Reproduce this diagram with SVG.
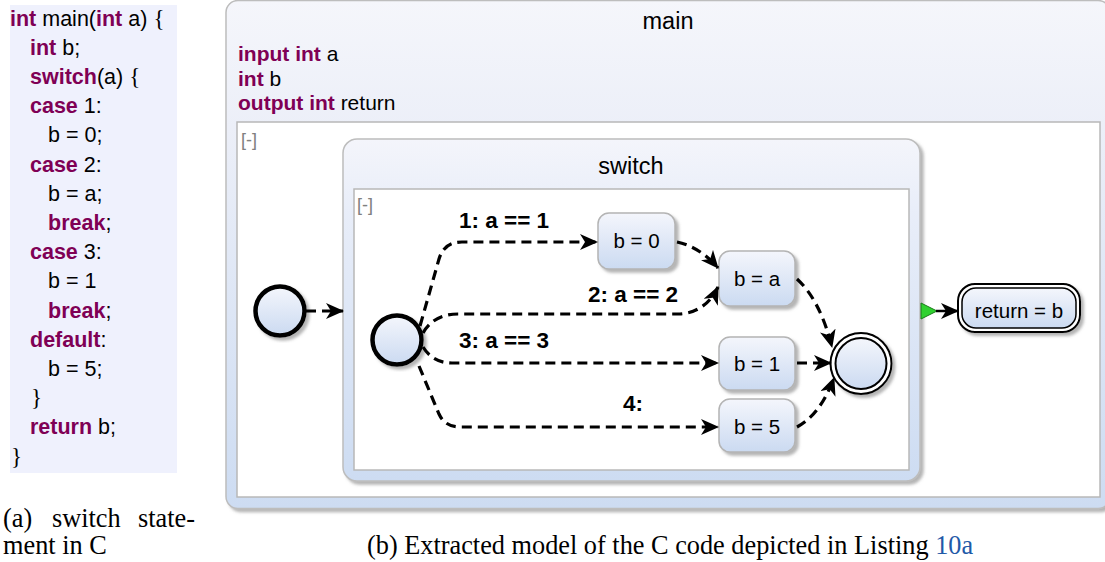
<svg xmlns="http://www.w3.org/2000/svg" width="1105" height="562" viewBox="0 0 1105 562">
<defs>
<linearGradient id="gNode" x1="0" y1="0" x2="0" y2="1"><stop offset="0" stop-color="#f4f6fc"/><stop offset="1" stop-color="#cbdaf1"/></linearGradient>
<linearGradient id="gBox" x1="0" y1="0" x2="0" y2="1"><stop offset="0" stop-color="#f5f6fb"/><stop offset="0.25" stop-color="#eceff8"/><stop offset="1" stop-color="#cddcf2"/></linearGradient>
<linearGradient id="gSw" x1="0" y1="0" x2="0" y2="1"><stop offset="0" stop-color="#f4f5fb"/><stop offset="0.2" stop-color="#e9eef9"/><stop offset="1" stop-color="#cddcf2"/></linearGradient>
<filter id="sh" x="-10%" y="-10%" width="125%" height="125%"><feDropShadow dx="3" dy="3" stdDeviation="1.5" flood-color="#777" flood-opacity="0.55"/></filter>
<marker id="ah" markerUnits="userSpaceOnUse" markerWidth="18" markerHeight="16" viewBox="0 0 18 16" refX="17" refY="8" orient="auto"><path d="M0,0 L18,8 L0,16 L5,8 z" fill="#000"/></marker>
<style>
.code{font-family:"Liberation Sans",Arial,sans-serif;font-size:21.5px;fill:#000}
.kw{font-weight:bold;fill:#7f0055}
.br{font-family:"Liberation Serif","Times New Roman",serif;font-size:23px}
.cap{font-family:"Liberation Serif","Times New Roman",serif;font-size:26.3px;fill:#000}
.t{font-family:"Liberation Sans",Arial,sans-serif;fill:#000}
.lab{font-family:"Liberation Sans",Arial,sans-serif;font-size:22.5px;font-weight:bold;fill:#000}
.col{font-family:"Liberation Sans",Arial,sans-serif;font-size:18px;fill:#808080}
.node{fill:url(#gNode);stroke:#b4b4b4;stroke-width:1.5}
.ed{fill:none;stroke:#000;stroke-width:3.2;stroke-dasharray:10,6;marker-end:url(#ah)}
</style>
</defs>
<rect width="1105" height="562" fill="#fff"/>
<g id="code">
<rect x="10" y="5" width="167" height="468" fill="#eff1fd"/>
<text class="code" x="10" y="26"><tspan class="kw">int</tspan> main(<tspan class="kw">int</tspan> a) <tspan class="br">{</tspan></text>
<text class="code" x="30" y="55"><tspan class="kw">int</tspan> b;</text>
<text class="code" x="30" y="84"><tspan class="kw">switch</tspan>(a) <tspan class="br">{</tspan></text>
<text class="code" x="30" y="113"><tspan class="kw">case</tspan> 1:</text>
<text class="code" x="48" y="142">b = 0;</text>
<text class="code" x="30" y="172"><tspan class="kw">case</tspan> 2:</text>
<text class="code" x="48" y="201">b = a;</text>
<text class="code" x="48" y="230"><tspan class="kw">break</tspan>;</text>
<text class="code" x="30" y="259"><tspan class="kw">case</tspan> 3:</text>
<text class="code" x="48" y="288">b = 1</text>
<text class="code" x="48" y="318"><tspan class="kw">break</tspan>;</text>
<text class="code" x="30" y="347"><tspan class="kw">default</tspan>:</text>
<text class="code" x="48" y="376">b = 5;</text>
<text class="code br" x="31" y="405">}</text>
<text class="code" x="30" y="434"><tspan class="kw">return</tspan> b;</text>
<text class="code br" x="11" y="464">}</text>
</g>
<g id="caption-a">
<text class="cap" x="3" y="527">(a)</text>
<text class="cap" x="52" y="527">switch</text>
<text class="cap" x="138" y="527">state-</text>
<text class="cap" x="3" y="554">ment in C</text>
</g>
<g id="caption-b">
<text class="cap" x="367" y="554">(b) Extracted model of the C code depicted in Listing <tspan fill="#1f5aa8">10a</tspan></text>
</g>
<g id="main">
<rect x="226" y="0.5" width="884" height="508" rx="12" fill="url(#gBox)" stroke="#bdbdbd" stroke-width="1.5" filter="url(#sh)"/>
<text class="t" x="668" y="29" font-size="23.5" text-anchor="middle">main</text>
<text class="t" x="238" y="61" font-size="21"><tspan font-weight="bold" fill="#7f0055">input int</tspan> a</text>
<text class="t" x="238" y="86" font-size="21"><tspan font-weight="bold" fill="#7f0055">int</tspan> b</text>
<text class="t" x="238" y="110" font-size="21"><tspan font-weight="bold" fill="#7f0055">output int</tspan> return</text>
<rect x="237" y="122" width="863" height="375" fill="#fff" stroke="#b8b8b8" stroke-width="1.5"/>
<text class="col" x="241" y="146">[-]</text>
</g>
<g id="switch">
<rect x="343" y="139" width="577" height="342" rx="14" fill="url(#gSw)" stroke="#bdbdbd" stroke-width="1.5" filter="url(#sh)"/>
<text class="t" x="631" y="174" font-size="23.5" text-anchor="middle">switch</text>
<rect x="354" y="189" width="555" height="281" fill="#fff" stroke="#b8b8b8" stroke-width="1.5"/>
<text class="col" x="357" y="211">[-]</text>
</g>
<g id="init-main">
<circle cx="280" cy="311" r="24.5" fill="url(#gNode)" stroke="#000" stroke-width="4.5" filter="url(#sh)"/>
</g>
<g id="init-switch">
<circle cx="397" cy="340" r="24.5" fill="url(#gNode)" stroke="#000" stroke-width="4.5" filter="url(#sh)"/>
</g>
<g id="b0">
<rect class="node" x="598" y="213" width="77" height="56" rx="11" filter="url(#sh)"/>
<text class="t" x="636.5" y="248" font-size="20.5" text-anchor="middle">b = 0</text>
</g>
<g id="ba">
<rect class="node" x="719" y="251" width="76" height="55" rx="11" filter="url(#sh)"/>
<text class="t" x="757" y="286" font-size="20.5" text-anchor="middle">b = a</text>
</g>
<g id="b1">
<rect class="node" x="719" y="337" width="76" height="53" rx="11" filter="url(#sh)"/>
<text class="t" x="757" y="371" font-size="20.5" text-anchor="middle">b = 1</text>
</g>
<g id="b5">
<rect class="node" x="719" y="399" width="76" height="53" rx="11" filter="url(#sh)"/>
<text class="t" x="757" y="434" font-size="20.5" text-anchor="middle">b = 5</text>
</g>
<g id="final">
<circle cx="861" cy="363.5" r="30.5" fill="#fff" stroke="#000" stroke-width="2" filter="url(#sh)"/>
<circle cx="861" cy="363.5" r="25.5" fill="url(#gNode)" stroke="#000" stroke-width="2"/>
</g>
<g id="return">
<rect x="958" y="284" width="122" height="48" rx="17" fill="#fff" stroke="#000" stroke-width="2" filter="url(#sh)"/>
<rect x="962" y="288" width="114" height="40" rx="14" fill="url(#gNode)" stroke="#000" stroke-width="1.5"/>
<text class="t" x="1019" y="318" font-size="20.5" text-anchor="middle">return = b</text>
</g>
<g id="connectors">
<path class="ed" d="M306,311 L343,311"/>
<path class="ed" d="M420,326 L439,259 Q444,242 462,242 L597,242"/>
<path class="ed" d="M423,333 Q434,314 458,314 L680,314 Q706,312 718,287"/>
<path class="ed" d="M423,347 Q433,363 452,363 L718,363"/>
<path class="ed" d="M419,366 L439,414 Q445,427 460,427 L718,427"/>
<path class="ed" d="M677,242 Q700,247 718,268"/>
<path class="ed" d="M797,279 Q820,300 832,347"/>
<path class="ed" d="M797,363 L831,363"/>
<path class="ed" d="M797,427 Q820,415 834,378"/>
<polygon points="921,303 937,311 921,319" fill="#2fd12f" stroke="#1a7a1a" stroke-width="1"/>
<path d="M936,311 L958,311" fill="none" stroke="#000" stroke-width="2.5" marker-end="url(#ah)"/>
<text class="lab" x="459" y="228">1: a == 1</text>
<text class="lab" x="588" y="302">2: a == 2</text>
<text class="lab" x="459" y="348">3: a == 3</text>
<text class="lab" x="623" y="411">4:</text>
</g>
</svg>
